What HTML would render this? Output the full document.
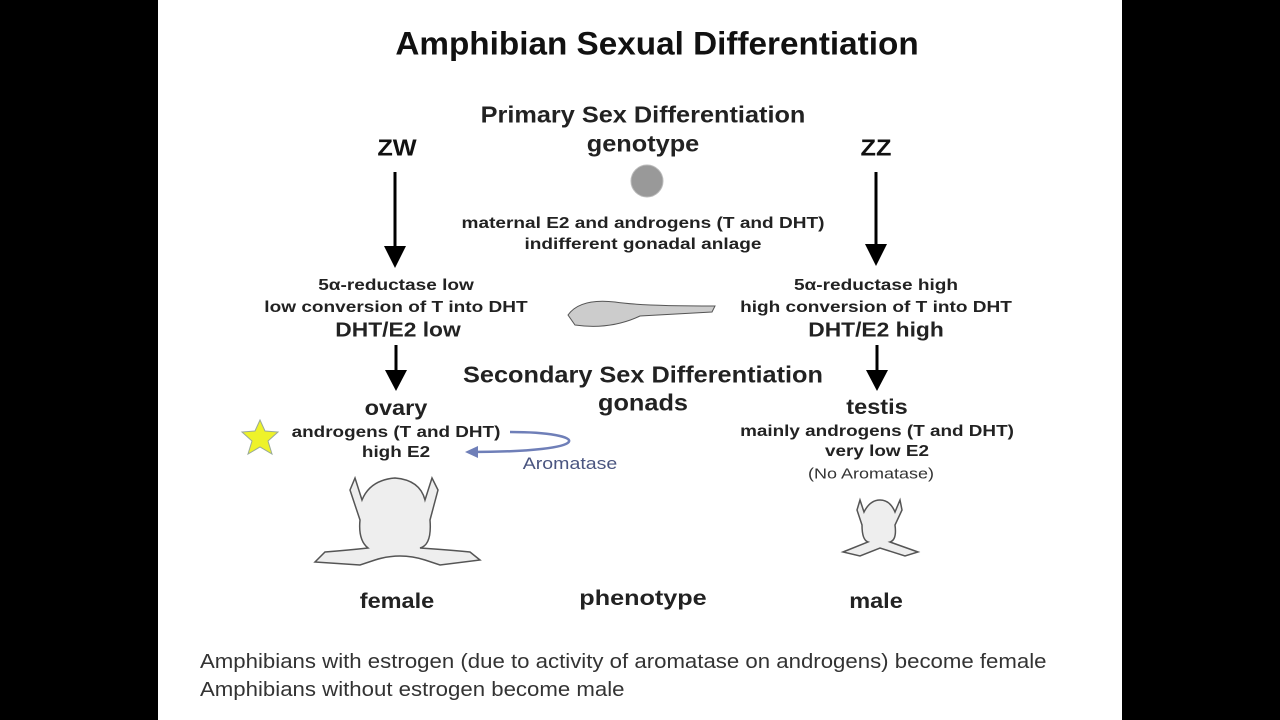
<!DOCTYPE html>
<html><head><meta charset="utf-8"><style>
body{margin:0;width:1280px;height:720px;background:#000;overflow:hidden;font-family:"Liberation Sans",sans-serif}
#s{position:absolute;left:158px;top:0;width:964px;height:720px;background:#fff}
.t{position:absolute;transform:translate(-50%,-50%) scaleX(var(--k,1.2));white-space:nowrap;font-weight:bold;color:#222}
.l{position:absolute;white-space:nowrap;color:#333;font-size:20px;transform-origin:0 0;transform:scaleX(1.11)}
</style></head><body>
<div id="s"></div>
<svg width="1280" height="720" style="position:absolute;left:0;top:0">
<g stroke="#000" stroke-width="3">
<line x1="395" y1="172" x2="395" y2="248"/><polygon points="384,246 406,246 395,268" fill="#000" stroke="none"/>
<line x1="876" y1="172" x2="876" y2="246"/><polygon points="865,244 887,244 876,266" fill="#000" stroke="none"/>
<line x1="396" y1="345" x2="396" y2="372"/><polygon points="385,370 407,370 396,391" fill="#000" stroke="none"/>
<line x1="877" y1="345" x2="877" y2="372"/><polygon points="866,370 888,370 877,391" fill="#000" stroke="none"/>
</g>
<circle cx="647" cy="181" r="16" fill="#999" stroke="#bbb"/>
<path d="M568,315 Q580,298 615,302 Q640,306 715,306 L712,312 L640,316 Q610,330 575,325 Z" fill="#ccc" stroke="#555"/>
<polygon points="260,420 265,431 278,432 268,441 272,454 260,447 248,454 252,441 242,432 255,431" fill="#eef22a" stroke="#9a9" />
<path d="M510,432 C590,432 600,452 470,452" fill="none" stroke="#6f7fb8" stroke-width="2.5"/>
<polygon points="465,452 478,446 478,458" fill="#6f7fb8"/>
<g fill="#eee" stroke="#555" stroke-width="1.5">
<path d="M355,478 L362,500 Q370,480 395,478 Q420,480 425,500 L432,478 L438,490 L430,520 Q432,545 420,548 Q450,550 470,552 L480,560 L440,565 L425,560 Q400,552 375,560 L360,565 L315,562 L325,552 Q350,550 368,548 Q358,540 360,520 L350,490 Z"/>
<path d="M860,500 L864,512 Q870,500 880,500 Q890,500 895,512 L900,500 L902,510 L895,525 Q897,540 890,542 L918,552 L905,556 L880,548 L860,556 L843,552 L868,542 Q862,540 862,525 L857,510 Z"/>
</g>
</svg>
<div class="t" style="left:657px;top:44px;font-size:32px;--k:1.04;color:#111">Amphibian Sexual Differentiation</div>
<div class="t" style="left:643px;top:115px;font-size:23px;--k:1.1">Primary Sex Differentiation</div>
<div class="t" style="left:643px;top:144px;font-size:23px;--k:1.1">genotype</div>
<div class="t" style="left:397px;top:148px;font-size:23px;--k:1.1;color:#111">ZW</div>
<div class="t" style="left:876px;top:148px;font-size:23px;--k:1.1;color:#111">ZZ</div>
<div class="t" style="left:643px;top:224px;font-size:16px;--k:1.19">maternal E2 and androgens (T and DHT)</div>
<div class="t" style="left:643px;top:245px;font-size:16px;--k:1.19">indifferent gonadal anlage</div>
<div class="t" style="left:396px;top:286px;font-size:16px;--k:1.19">5α-reductase low</div>
<div class="t" style="left:396px;top:308px;font-size:16px;--k:1.19">low conversion of T into DHT</div>
<div class="t" style="left:398px;top:331px;font-size:20px;--k:1.14">DHT/E2 low</div>
<div class="t" style="left:876px;top:286px;font-size:16px;--k:1.19">5α-reductase high</div>
<div class="t" style="left:876px;top:308px;font-size:16px;--k:1.19">high conversion of T into DHT</div>
<div class="t" style="left:876px;top:331px;font-size:20px;--k:1.14">DHT/E2 high</div>
<div class="t" style="left:643px;top:375px;font-size:23px;--k:1.1">Secondary Sex Differentiation</div>
<div class="t" style="left:643px;top:403px;font-size:23px;--k:1.1">gonads</div>
<div class="t" style="left:396px;top:409px;font-size:21px;--k:1.12">ovary</div>
<div class="t" style="left:396px;top:433px;font-size:16px;--k:1.18">androgens (T and DHT)</div>
<div class="t" style="left:396px;top:453px;font-size:16px;--k:1.18">high E2</div>
<div class="t" style="left:570px;top:464px;font-size:17px;--k:1.15;font-weight:normal;color:#4a5580">Aromatase</div>
<div class="t" style="left:877px;top:408px;font-size:21px;--k:1.12">testis</div>
<div class="t" style="left:877px;top:432px;font-size:16px;--k:1.18">mainly androgens (T and DHT)</div>
<div class="t" style="left:877px;top:452px;font-size:16px;--k:1.18">very low E2</div>
<div class="t" style="left:871px;top:474px;font-size:15px;--k:1.2;font-weight:normal;color:#333">(No Aromatase)</div>
<div class="t" style="left:397px;top:602px;font-size:21px;--k:1.12">female</div>
<div class="t" style="left:643px;top:599px;font-size:21px;--k:1.2">phenotype</div>
<div class="t" style="left:876px;top:602px;font-size:21px;--k:1.12">male</div>
<div class="l" style="left:200px;top:651px">Amphibians with estrogen (due to activity of aromatase on androgens) become female</div>
<div class="l" style="left:200px;top:679px">Amphibians without estrogen become male</div>
</body></html>
